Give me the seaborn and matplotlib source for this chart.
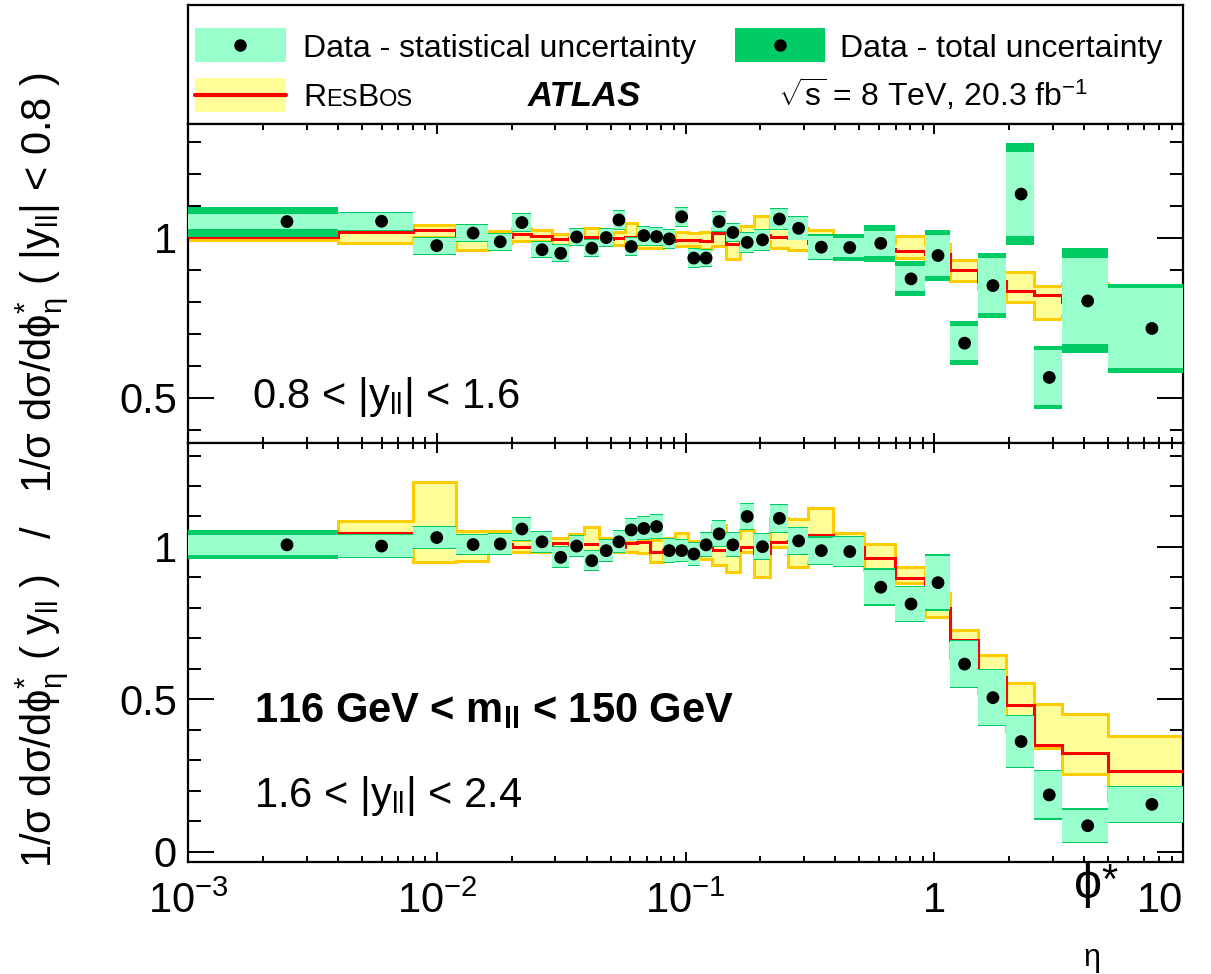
import numpy as np
import matplotlib
matplotlib.use("Agg")
import matplotlib.pyplot as plt
import seaborn as sns
from matplotlib.patches import Rectangle
from matplotlib.ticker import LogLocator, NullFormatter, MultipleLocator, FixedLocator

# ---------------- data ----------------
bin_edges = [0.001, 0.004, 0.008, 0.012, 0.016, 0.020, 0.024, 0.029, 0.034, 0.039,
             0.045, 0.051, 0.057, 0.064, 0.072, 0.081, 0.091, 0.102, 0.114, 0.128,
             0.145, 0.165, 0.189, 0.219, 0.258, 0.312, 0.391, 0.524, 0.695, 0.918,
             1.153, 1.496, 1.947, 2.522, 3.277, 5.0, 10.0]
bin_centers = [0.0025, 0.006, 0.010, 0.014, 0.018, 0.022, 0.0265, 0.0315, 0.0365, 0.042,
               0.048, 0.054, 0.0605, 0.068, 0.0765, 0.086, 0.0965, 0.108, 0.121, 0.1365,
               0.155, 0.177, 0.204, 0.2385, 0.285, 0.3515, 0.4575, 0.6095, 0.8065, 1.0355,
               1.3245, 1.7215, 2.2345, 2.8995, 4.1385, 7.5]

# top panel: 0.8 < |y_ll| < 1.6
top_data = [1.051, 1.052, 0.976, 1.015, 0.988, 1.048, 0.963, 0.952, 1.003, 0.968,
            1.001, 1.056, 0.973, 1.007, 1.004, 0.997, 1.066, 0.937, 0.937, 1.051,
            1.017, 0.986, 0.994, 1.059, 1.030, 0.971, 0.970, 0.983, 0.872, 0.945,
            0.671, 0.851, 1.137, 0.564, 0.803, 0.717]
top_stat = [0.024, 0.027, 0.025, 0.025, 0.025, 0.026, 0.024, 0.025, 0.026, 0.025,
            0.026, 0.028, 0.027, 0.028, 0.026, 0.028, 0.029, 0.027, 0.026, 0.030,
            0.028, 0.029, 0.031, 0.030, 0.035, 0.036, 0.031, 0.040, 0.039, 0.065,
            0.053, 0.085, 0.132, 0.086, 0.135, 0.125]
top_total = [0.047, 0.030, 0.028, 0.028, 0.028, 0.029, 0.027, 0.028, 0.029, 0.028,
             0.029, 0.031, 0.030, 0.031, 0.029, 0.031, 0.032, 0.030, 0.029, 0.033,
             0.031, 0.032, 0.034, 0.033, 0.038, 0.040, 0.042, 0.058, 0.055, 0.080,
             0.068, 0.102, 0.159, 0.098, 0.164, 0.140]
top_resbos = [1.004, 1.017, 1.025, 1.000, 1.002, 1.012, 1.006, 0.996, 1.000, 1.002,
              0.998, 0.999, 1.003, 0.990, 0.990, 0.990, 0.994, 0.994, 0.990, 1.015,
              0.981, 1.000, 1.010, 1.002, 1.000, 0.985, 0.975, 0.965, 0.959, 0.950,
              0.900, 0.865, 0.834, 0.820, 0.800, 0.790]
top_resbos_lo = [0.993, 0.985, 1.004, 0.963, 0.985, 0.990, 0.989, 0.978, 0.988, 0.990,
                 0.985, 0.978, 0.992, 0.968, 0.970, 0.975, 0.975, 0.975, 0.965, 0.975,
                 0.935, 0.985, 0.990, 0.968, 0.963, 0.960, 0.955, 0.945, 0.937, 0.930,
                 0.864, 0.840, 0.801, 0.747, 0.760, 0.750]
top_resbos_hi = [1.012, 1.026, 1.040, 1.020, 1.022, 1.030, 1.025, 1.012, 1.012, 1.030,
                 1.012, 1.020, 1.046, 1.005, 1.005, 1.005, 1.020, 1.015, 1.020, 1.030,
                 1.020, 1.036, 1.067, 1.030, 1.030, 1.025, 1.000, 0.985, 1.007, 0.980,
                 0.931, 0.895, 0.895, 0.851, 0.860, 0.840]

# bottom panel: 1.6 < |y_ll| < 2.4
bot_data = [1.007, 1.003, 1.031, 1.008, 1.010, 1.059, 1.017, 0.966, 1.003, 0.955,
            0.988, 1.017, 1.056, 1.061, 1.067, 0.988, 0.988, 0.977, 1.007, 1.043,
            1.007, 1.100, 1.001, 1.094, 1.020, 0.988, 0.985, 0.868, 0.813, 0.883,
            0.616, 0.506, 0.362, 0.187, 0.086, 0.156]
bot_stat = [0.033, 0.035, 0.034, 0.032, 0.033, 0.035, 0.033, 0.033, 0.033, 0.031,
            0.035, 0.035, 0.035, 0.036, 0.037, 0.037, 0.035, 0.037, 0.038, 0.041,
            0.038, 0.042, 0.042, 0.044, 0.042, 0.043, 0.048, 0.055, 0.055, 0.087,
            0.076, 0.089, 0.083, 0.077, 0.053, 0.057]
bot_total = [0.048, 0.038, 0.037, 0.035, 0.036, 0.038, 0.036, 0.036, 0.036, 0.034,
             0.038, 0.038, 0.038, 0.039, 0.040, 0.040, 0.038, 0.040, 0.041, 0.044,
             0.041, 0.045, 0.045, 0.047, 0.045, 0.047, 0.052, 0.062, 0.060, 0.093,
             0.080, 0.093, 0.087, 0.081, 0.057, 0.061]
bot_resbos = [1.020, 1.047, 1.040, 1.040, 1.010, 1.001, 1.000, 1.012, 1.010, 1.010,
              1.010, 1.000, 1.012, 1.015, 0.985, 0.990, 1.000, 1.000, 0.996, 0.990,
              0.990, 0.999, 0.980, 1.015, 1.020, 1.040, 1.000, 0.963, 0.897, 0.800,
              0.695, 0.575, 0.482, 0.351, 0.324, 0.267]
bot_resbos_lo = [0.990, 1.010, 0.952, 0.955, 0.985, 0.985, 0.985, 0.999, 0.985, 0.987,
                 0.990, 0.985, 0.985, 0.980, 0.952, 0.970, 0.975, 0.970, 0.960, 0.940,
                 0.919, 0.985, 0.900, 1.001, 0.933, 0.950, 0.960, 0.925, 0.881, 0.771,
                 0.635, 0.520, 0.395, 0.340, 0.256, 0.170]
bot_resbos_hi = [1.054, 1.085, 1.212, 1.054, 1.054, 1.023, 1.030, 1.030, 1.042, 1.067,
                 1.030, 1.025, 1.023, 1.023, 1.023, 1.028, 1.045, 1.020, 1.020, 1.072,
                 1.030, 1.056, 1.020, 1.096, 1.091, 1.127, 1.047, 1.009, 0.933, 0.850,
                 0.728, 0.646, 0.553, 0.485, 0.452, 0.380]

x_ticks = [1e-3, 1e-2, 1e-1, 1, 10]
x_tick_labels = [r"10$^{-3}$", r"10$^{-2}$", r"10$^{-1}$", "1", "10"]
top_y_ticks = [0.5, 1.0]
top_y_tick_labels = ["0.5", "1"]
bot_y_ticks = [0.0, 0.5, 1.0]
bot_y_tick_labels = ["0", "0.5", "1"]

# ---------------- style ----------------
sns.set_style("ticks")
plt.rcParams['font.family'] = ['Liberation Sans', 'DejaVu Sans']
plt.rcParams['mathtext.fontset'] = 'custom'
plt.rcParams['mathtext.rm'] = 'Liberation Sans'
plt.rcParams['mathtext.it'] = 'Liberation Sans:italic'
plt.rcParams['mathtext.bf'] = 'Liberation Sans:bold'
plt.rcParams['mathtext.sf'] = 'Liberation Sans'
plt.rcParams['text.color'] = 'black'
plt.rcParams['axes.labelcolor'] = 'black'
plt.rcParams['xtick.color'] = 'black'
plt.rcParams['ytick.color'] = 'black'
plt.rcParams['axes.edgecolor'] = 'black'

LIGHT = '#99FFCC'
DARK = '#00CC66'
YELLOW = '#FFFF99'
ORANGE = '#FFCC00'
RED = '#FF0000'

fig = plt.figure(figsize=(12.11, 9.74), dpi=100)
L, W = 188 / 1211, 995 / 1211
ax_leg = fig.add_axes([L, 1 - 124 / 974, W, 119 / 974])
ax_top = fig.add_axes([L, 1 - 443 / 974, W, 319 / 974])
ax_bot = fig.add_axes([L, 1 - 862 / 974, W, 419 / 974])


def draw_panel(ax, data, stat, tot, th, thl, thh):
    e = np.array(bin_edges)
    d = np.array(data)
    ax.stairs(thh, e, baseline=thl, fill=True, color=YELLOW, lw=0, zorder=1)
    ax.stairs(thh, e, baseline=None, color=ORANGE, lw=2.2, zorder=2)
    ax.stairs(thl, e, baseline=None, color=ORANGE, lw=2.2, zorder=2)
    ax.stairs(th, e, baseline=None, color=RED, lw=2.2, zorder=3)
    ax.stairs(d + np.array(tot), e, baseline=d - np.array(tot), fill=True,
              color=DARK, lw=0, zorder=4)
    ax.stairs(d + np.array(stat), e, baseline=d - np.array(stat), fill=True,
              color=LIGHT, lw=0, zorder=5)
    sns.scatterplot(x=bin_centers, y=data, ax=ax, color='black', s=85,
                    edgecolor='none', zorder=6, legend=False)


draw_panel(ax_top, top_data, top_stat, top_total, top_resbos, top_resbos_lo, top_resbos_hi)
draw_panel(ax_bot, bot_data, bot_stat, bot_total, bot_resbos, bot_resbos_lo, bot_resbos_hi)

for ax in (ax_top, ax_bot):
    ax.set_xscale('log')
    ax.set_xlim(1e-3, 10)
    ax.xaxis.set_major_locator(FixedLocator(x_ticks))
    ax.xaxis.set_minor_locator(LogLocator(base=10, subs=np.arange(2, 10), numticks=30))
    ax.xaxis.set_minor_formatter(NullFormatter())
    ax.yaxis.set_minor_locator(MultipleLocator(0.1))
    ax.tick_params(which='both', direction='in', top=True, right=True, colors='black')
    ax.tick_params(axis='x', which='major', length=7.5, width=1.4)
    ax.tick_params(axis='x', which='minor', length=4, width=1.4)
    ax.tick_params(axis='y', which='major', length=19, width=1.4, pad=8, labelsize=30)
    ax.tick_params(axis='y', which='minor', length=9.5, width=1.4)
    for s in ax.spines.values():
        s.set_linewidth(1.6)
        s.set_color('black')
    ax.set_xlabel('')
    ax.set_ylabel('')

ax_top.set_ylim(0.359, 1.356)
ax_top.set_yticks(top_y_ticks, top_y_tick_labels)
ax_top.set_xticks(x_ticks, [''] * len(x_ticks))
ax_top.tick_params(labelbottom=False)

ax_bot.set_ylim(-0.033, 1.341)
ax_bot.set_yticks(bot_y_ticks, bot_y_tick_labels)
ax_bot.set_xticks(x_ticks, x_tick_labels)
ax_bot.tick_params(axis='x', which='major', labelsize=30, pad=14)
ax_bot.get_xticklabels()[-1].set_horizontalalignment('right')

# panel texts
ax_top.text(0.064, 0.11, r"0.8 < |y$_{\mathrm{ll}}$| < 1.6", transform=ax_top.transAxes,
            fontsize=30, ha='left', va='baseline', zorder=10)
ax_bot.text(0.066, 0.334, r"116 GeV < m$_{\mathbf{ll}}$ < 150 GeV", transform=ax_bot.transAxes,
            fontsize=30, fontweight='bold', ha='left', va='baseline', zorder=10)
ax_bot.text(0.066, 0.131, r"1.6 < |y$_{\mathrm{ll}}$| < 2.4", transform=ax_bot.transAxes,
            fontsize=30, ha='left', va='baseline', zorder=10)

# legend box
ax_leg.set_xlim(0, 1)
ax_leg.set_ylim(0, 1)
ax_leg.set_xticks([])
ax_leg.set_yticks([])
for s in ax_leg.spines.values():
    s.set_linewidth(1.6)
    s.set_color('black')

ax_leg.add_patch(Rectangle((0.007, 0.52), 0.091, 0.29, color=LIGHT, lw=0))
ax_leg.plot([0.0525], [0.665], 'o', color='black', ms=8)
ax_leg.add_patch(Rectangle((0.5497, 0.52), 0.091, 0.29, color=DARK, lw=0))
ax_leg.plot([0.595], [0.665], 'o', color='black', ms=8)
ax_leg.add_patch(Rectangle((0.007, 0.10), 0.091, 0.29, color=YELLOW, lw=0))
ax_leg.plot([0.007, 0.098], [0.245, 0.245], color=RED, lw=3)

ax_leg.text(0.1156, 0.563, "Data - statistical uncertainty", fontsize=23, va='baseline', ha='left')
ax_leg.text(0.655, 0.563, "Data - total uncertainty", fontsize=23, va='baseline', ha='left')

# ResBos in small caps
t = ax_leg.text(0.1156, 0.151, "R", fontsize=23, va='baseline', ha='left')
for piece, size in [("ES", 17), ("B", 23), ("OS", 17)]:
    t = ax_leg.annotate(piece, xy=(1.0, 0.151), xycoords=(t, 'axes fraction'),
                        fontsize=size, va='baseline', ha='left')

ax_leg.text(0.3417, 0.151, "ATLAS", fontsize=25, fontweight='bold', fontstyle='italic',
            va='baseline', ha='left')
ax_leg.text(0.593, 0.151, r"$\sqrt{\mathrm{s}}$ = 8 TeV, 20.3 fb$^{-1}$", fontsize=23,
            va='baseline', ha='left')

# axis titles
fig.text(0.035, 1 - 470 / 974,
         r"1/σ dσ/dϕ$^{*}_{\mathrm{\eta}}$ ( y$_{\mathrm{ll}}$ )   /   "
         r"1/σ dσ/dϕ$^{*}_{\mathrm{\eta}}$ ( |y$_{\mathrm{ll}}$| < 0.8 )",
         rotation=90, ha='center', va='center', fontsize=30)
fig.text(1088 / 1211, 1 - 885 / 974, "ϕ", fontsize=36, ha='center', va='center')
fig.text(1109 / 1211, 1 - 882 / 974, "*", fontsize=30, ha='center', va='center')
fig.text(1092 / 1211, 1 - 958 / 974, "η", fontsize=22, ha='center', va='center')

fig.savefig("out.png", dpi=100)
